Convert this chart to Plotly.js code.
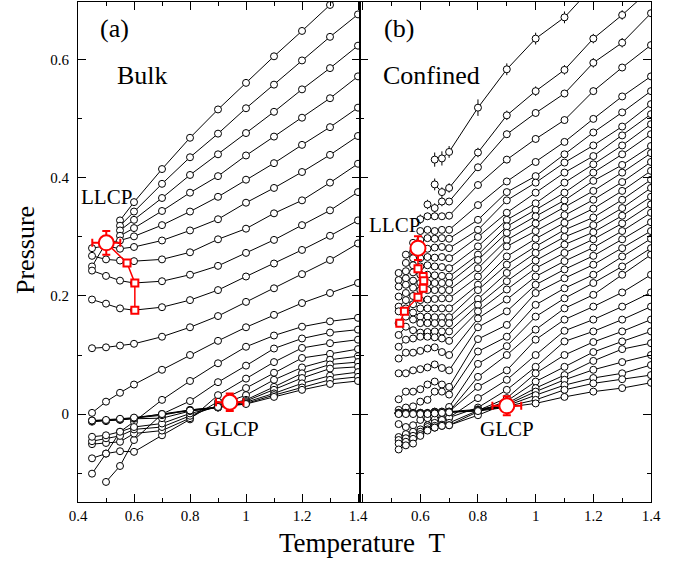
<!DOCTYPE html>
<html>
<head>
<meta charset="utf-8">
<script src="https://cdn.plot.ly/plotly-3.0.1.min.js"></script>
<style>html,body{margin:0;padding:0;background:#fff;}#chart{width:682px;height:562px;}</style>
</head>
<body>
<div id="chart"></div>
<script>
// ---------- Bulk (panel a) ----------
const TL = [0.45,0.5,0.55,0.6,0.7,0.8,0.9,1.0,1.1,1.2,1.3,1.4];
const bulkC1  = [null,null,0.328,0.359,0.415,0.468,0.516,0.561,0.606,0.649,0.693,0.737];
const bulkC2  = [null,null,0.319,0.343,0.390,0.435,0.475,0.518,0.558,0.599,0.639,0.677];
const bulkC3  = [null,null,0.311,0.329,0.366,0.405,0.440,0.476,0.512,0.550,0.586,0.624];
const bulkC4  = [null,null,0.302,0.315,0.344,0.375,0.403,0.438,0.470,0.502,0.535,0.572];
const bulkC5  = [0.250,0.290,0.294,0.301,0.320,0.343,0.368,0.397,0.425,0.456,0.486,0.519];
const bulkC6  = [0.281,0.285,0.280,0.283,0.294,0.311,0.330,0.358,0.383,0.410,0.439,0.471];
const bulkC7  = [0.268,0.262,0.260,0.259,0.262,0.274,0.296,0.314,0.340,0.362,0.392,0.424];
const bulkC8  = [0.243,0.234,0.226,0.222,0.225,0.236,0.251,0.273,0.295,0.320,0.345,0.376];
const bulkC9  = [0.194,0.187,0.179,0.176,0.181,0.193,0.210,0.233,0.255,0.278,0.302,0.328];
const bulkC10 = [0.1115,0.113,0.116,0.119,0.131,0.147,0.166,0.190,0.213,0.237,0.261,0.289];
const bulkC11 = [0.002,0.021,0.036,0.050,0.075,0.100,0.124,0.147,0.168,0.188,0.205,0.222];
const bulkL2  = [-0.101,-0.067,-0.030,-0.013,0.024,0.056,0.086,0.114,0.133,0.148,0.157,0.163];
const bulkL3  = [null,-0.115,-0.088,-0.044,0.000,0.022,0.054,0.082,0.111,0.128,0.138,0.143];
const bulkL4  = [-0.075,-0.067,-0.063,-0.064,-0.036,-0.009,0.032,0.060,0.088,0.112,0.120,0.126];
const bulkL5  = [-0.051,-0.049,-0.047,-0.033,-0.028,-0.007,0.021,0.044,0.070,0.095,0.102,0.110];
const bulkL6  = [-0.046,-0.041,-0.037,-0.026,-0.022,-0.003,0.015,0.032,0.058,0.079,0.092,0.098];
const bulkL7  = [-0.0385,-0.036,-0.030,-0.022,-0.016,0.001,0.012,0.024,0.046,0.069,0.084,0.088];
const bulkL8  = [-0.013,-0.012,-0.010,-0.008,-0.007,0.005,0.011,0.022,0.041,0.061,0.077,0.080];
const bulkL9  = [-0.012,-0.011,-0.009,-0.007,-0.002,0.007,0.011,0.020,0.035,0.052,0.065,0.071];
const bulkL10 = [-0.011,-0.011,-0.009,-0.007,0.000,0.007,0.012,0.018,0.032,0.045,0.058,0.063];
const bulkL11 = [-0.011,-0.010,-0.008,-0.006,0.000,0.006,0.012,0.017,0.029,0.041,0.051,0.056];
const bulkCurves = [bulkC1,bulkC2,bulkC3,bulkC4,bulkC5,bulkC6,bulkC7,bulkC8,bulkC9,bulkC10,bulkC11,
                    bulkL2,bulkL3,bulkL4,bulkL5,bulkL6,bulkL7,bulkL8,bulkL9,bulkL10,bulkL11];

const bulkLLCP_T = [0.501], bulkLLCP_P = [0.290], bulkLLCP_dT = [0.05], bulkLLCP_dP = [0.02];
const bulkPathT = [0.501,0.575,0.603,0.603];
const bulkPathP = [0.290,0.256,0.222,0.176];
const bulkGLCP_T = [0.942], bulkGLCP_P = [0.020], bulkGLCP_dT = [0.049], bulkGLCP_dP = [0.015];

// ---------- Confined (panel b) ----------
const TR = [0.525,0.55,0.575,0.6,0.625,0.65,0.675,0.7,0.8,0.9,1.0,1.1,1.2,1.3,1.4];
const confR1  = [null,null,null,null,null,0.431,0.433,0.444,0.519,0.584,0.636,0.672,0.725,null,null];
const confR2  = [null,null,null,null,null,0.389,0.376,0.383,0.443,0.506,0.547,0.583,0.636,0.676,0.720];
const confR3  = [null,null,null,null,0.355,0.349,0.360,0.360,0.418,0.474,0.510,0.543,0.595,0.629,0.679];
const confR4  = [null,null,null,0.330,0.335,0.335,0.335,0.336,0.388,0.431,0.466,0.498,0.547,0.587,0.625];
const confR5  = [null,null,null,0.310,0.312,0.310,0.312,0.312,0.354,0.394,0.427,0.461,0.500,0.538,0.572];
const confR6  = [null,null,0.290,0.295,0.298,0.297,0.298,0.297,0.329,0.376,0.403,0.440,0.477,0.511,0.547];
const confR7  = [null,null,0.275,0.278,0.280,0.282,0.283,0.281,0.312,0.362,0.392,0.426,0.455,0.487,0.525];
const confR8  = [null,0.270,0.264,0.264,0.266,0.265,0.266,0.264,0.300,0.341,0.375,0.409,0.437,0.472,0.508];
const confR9  = [null,0.256,0.252,0.250,0.252,0.250,0.249,0.247,0.284,0.329,0.357,0.392,0.423,0.455,0.491];
const confR10 = [0.239,0.242,0.240,0.236,0.236,0.235,0.234,0.233,0.270,0.318,0.346,0.375,0.409,0.440,0.474];
const confR11 = [0.227,0.230,0.226,0.222,0.222,0.222,0.222,0.222,0.261,0.307,0.335,0.362,0.395,0.422,0.454];
const confR12 = [0.216,0.219,0.214,0.210,0.210,0.210,0.210,0.210,0.247,0.295,0.323,0.350,0.378,0.409,0.442];
const confR13 = [0.199,0.205,0.200,0.193,0.194,0.195,0.196,0.196,0.233,0.284,0.310,0.337,0.363,0.393,0.427];
const confR14 = [0.182,0.193,0.186,0.179,0.179,0.179,0.179,0.179,0.219,0.267,0.297,0.324,0.348,0.378,0.412];
const confR15 = [0.174,0.179,0.172,0.165,0.165,0.164,0.164,0.164,0.210,0.253,0.284,0.312,0.333,0.363,0.397];
const confR16 = [0.154,0.165,0.160,0.154,0.154,0.154,0.154,0.154,0.195,0.239,0.273,0.300,0.320,0.349,0.383];
const confR17 = [0.134,0.148,0.142,0.138,0.139,0.140,0.140,0.140,0.185,0.225,0.260,0.287,0.308,0.336,0.368];
const confR18 = [0.114,0.126,0.128,0.131,0.131,0.130,0.128,0.124,0.174,0.211,0.247,0.273,0.296,0.323,0.355];
const confR19 = [0.094,0.104,0.104,0.107,0.111,0.113,0.105,0.100,0.162,0.194,0.233,0.259,0.282,0.310,0.341];
const confR20 = [0.069,0.069,0.074,0.076,0.079,0.084,0.078,0.074,0.147,0.174,0.219,0.245,0.268,0.296,0.325];
const confR21 = [0.025,0.038,0.038,0.042,0.050,0.055,0.050,0.046,0.127,0.151,0.205,0.230,0.253,0.281,0.310];
const confR22 = [0.007,0.011,0.013,0.021,0.024,0.038,0.038,0.033,0.106,0.131,0.185,0.213,0.236,0.267,0.297];
const confR23 = [0.002,0.002,0.002,0.002,0.001,0.004,0.004,0.012,0.085,0.115,0.165,0.196,0.222,0.250,0.281];
const confR24 = [0.002,0.002,0.002,0.002,0.001,0.004,0.004,0.004,0.063,0.100,0.143,0.179,0.202,0.236,0.270];
const confR25 = [0.001,0.001,0.002,0.001,0.001,0.002,0.003,0.004,0.046,0.074,0.126,0.160,0.182,0.206,0.236];
const confR26 = [-0.017,-0.022,-0.019,-0.010,-0.007,-0.009,-0.007,-0.006,0.027,0.058,0.100,0.141,0.160,0.182,0.206];
const confR27 = [-0.039,-0.034,-0.030,-0.026,-0.019,-0.015,-0.010,-0.006,0.011,0.041,0.080,0.123,0.140,0.160,0.182];
const confR28 = [-0.044,-0.041,-0.037,-0.030,-0.022,-0.020,-0.018,-0.015,0.006,0.027,0.069,0.100,0.122,0.140,0.160];
const confR29 = [-0.050,-0.047,-0.042,-0.034,-0.026,-0.023,-0.020,-0.019,0.004,0.022,0.055,0.080,0.105,0.123,0.140];
const confR30 = [-0.060,-0.053,-0.050,-0.037,-0.028,-0.023,-0.020,-0.019,-0.002,0.018,0.044,0.066,0.090,0.110,0.120];
const confR31 = [0.002,0.002,0.002,0.002,0.002,0.003,0.003,0.004,0.008,0.016,0.038,0.058,0.075,0.088,0.100];
const confR32 = [0.001,0.001,0.001,0.001,0.001,0.002,0.003,0.003,0.007,0.014,0.032,0.049,0.061,0.069,0.083];
const confR33 = [0.001,0.001,0.001,0.001,0.001,0.002,0.002,0.003,0.006,0.013,0.024,0.041,0.052,0.059,0.066];
const confR34 = [0.000,0.000,0.000,0.000,0.000,0.001,0.002,0.003,0.005,0.012,0.018,0.029,0.038,0.044,0.053];
const confCurves = [confR1,confR2,confR3,confR4,confR5,confR6,confR7,confR8,confR9,confR10,confR11,confR12,
  confR13,confR14,confR15,confR16,confR17,confR18,confR19,confR20,confR21,confR22,confR23,confR24,confR25,
  confR26,confR27,confR28,confR29,confR30,confR31,confR32,confR33,confR34];
// vertical error bars on the high-pressure confined points
const confErr1 = [0,0,0,0,0,0.012,0.012,0.010,0.014,0.010,0.010,0.010,0.010,0,0];
const confErr2 = [0,0,0,0,0,0.010,0.008,0.008,0.008,0.008,0.008,0.008,0.008,0.008,0];
const confErr3 = [0,0,0,0,0.008,0.008,0.008,0.006,0.006,0.006,0.006,0.006,0.008,0.008,0];
const confErr4 = [0,0,0,0.008,0.006,0.006,0.006,0.006,0.006,0.006,0.006,0.006,0.006,0.006,0];
const confErrs = [confErr1,confErr2,confErr3,confErr4];

const confLLCP_T = [0.592], confLLCP_P = [0.281], confLLCP_dP = [0.02];
const confPathT = [0.592,0.592,0.610,0.612,0.610,0.592,0.545,0.529];
const confPathP = [0.281,0.246,0.233,0.226,0.213,0.198,0.174,0.154];
const confGLCP_T = [0.900], confGLCP_P = [0.014], confGLCP_dT = [0.05], confGLCP_dP = [0.016];

const yTickVals = [0,0.2,0.4,0.6];
const yTickText = ['0','0.2','0.4','0.6'];
const xTickVals = [0.4,0.6,0.8,1.0,1.2,1.4];
const xTickTextA = ['0.4','0.6','0.8','1','1.2','1.4'];
const xTickTextB = ['','0.6','0.8','1','1.2','1.4'];

// ---------- build ----------
const FONT = '"Liberation Serif", "Times New Roman", Times, serif';
const RED = '#ff0000';
const traces = [];
function blackCurve(T, P, xa, ya, err) {
  const t = {
    x: T, y: P, xaxis: xa, yaxis: ya, type: 'scatter', mode: 'lines+markers',
    line: {color: '#000', width: 1},
    marker: {symbol: 'circle', size: 7, color: '#fff', line: {color: '#000', width: 1}},
    hoverinfo: 'skip', showlegend: false
  };
  if (err) t.error_y = {type: 'data', array: err, visible: true, color: '#000', thickness: 1, width: 0};
  traces.push(t);
}
bulkCurves.forEach(c => blackCurve(TL, c, 'x', 'y'));
confCurves.forEach((c, i) => blackCurve(TR, c, 'x2', 'y2', confErrs[i]));

function redPath(T, P, xa, ya) {
  traces.push({x: T, y: P, xaxis: xa, yaxis: ya, type: 'scatter', mode: 'lines',
    line: {color: RED, width: 1.5}, hoverinfo: 'skip', showlegend: false});
  traces.push({x: T.slice(1), y: P.slice(1), xaxis: xa, yaxis: ya, type: 'scatter', mode: 'markers',
    marker: {symbol: 'square', size: 7, color: '#fff', line: {color: RED, width: 2}},
    hoverinfo: 'skip', showlegend: false});
}
function redPoint(T, P, dT, dP, xa, ya) {
  const t = {x: T, y: P, xaxis: xa, yaxis: ya, type: 'scatter', mode: 'markers',
    marker: {symbol: 'circle', size: 15, color: '#fff', line: {color: RED, width: 2}},
    error_y: {type: 'data', array: dP, visible: true, color: RED, thickness: 2, width: 4},
    hoverinfo: 'skip', showlegend: false};
  if (dT) t.error_x = {type: 'data', array: dT, visible: true, color: RED, thickness: 2, width: 4};
  traces.push(t);
}
redPath(bulkPathT, bulkPathP, 'x', 'y');
redPoint(bulkLLCP_T, bulkLLCP_P, bulkLLCP_dT, bulkLLCP_dP, 'x', 'y');
redPoint(bulkGLCP_T, bulkGLCP_P, bulkGLCP_dT, bulkGLCP_dP, 'x', 'y');
redPath(confPathT, confPathP, 'x2', 'y2');
redPoint(confLLCP_T, confLLCP_P, null, confLLCP_dP, 'x2', 'y2');
redPoint(confGLCP_T, confGLCP_P, confGLCP_dT, confGLCP_dP, 'x2', 'y2');

const tickFont = {family: FONT, size: 15, color: '#000'};
const xCommon = {
  showgrid: false, zeroline: false, showline: true, linecolor: '#000', linewidth: 1,
  mirror: 'ticks', ticks: 'inside', ticklen: 8, tickwidth: 1, tickcolor: '#000',
  tickvals: xTickVals,
  minor: {tickvals: [0.5,0.7,0.9,1.1,1.3], ticks: 'inside', ticklen: 4, tickwidth: 1, tickcolor: '#000'},
  tickfont: tickFont, fixedrange: true
};
const yCommon = {
  showgrid: false, zeroline: false, showline: true, linecolor: '#000', linewidth: 1,
  mirror: 'ticks', ticks: 'inside', ticklen: 8, tickwidth: 1, tickcolor: '#000',
  range: [-0.149, 0.698], tickvals: yTickVals, ticktext: yTickText,
  minor: {tickvals: [-0.1,0.1,0.3,0.5], ticks: 'inside', ticklen: 4, tickwidth: 1, tickcolor: '#000'},
  tickfont: tickFont, fixedrange: true
};

const annFont = {family: FONT, size: 26, color: '#000'};
const labFont = {family: FONT, size: 21, color: '#000'};
const layout = {
  width: 682, height: 562,
  margin: {l: 78, r: 31, t: 2, b: 60},
  paper_bgcolor: '#fff', plot_bgcolor: '#fff',
  font: {family: FONT, color: '#000'},
  showlegend: false,
  xaxis: Object.assign({}, xCommon, {domain: [0, 0.49215], range: [0.4, 1.40714], anchor: 'y', ticktext: xTickTextA}),
  xaxis2: Object.assign({}, xCommon, {domain: [0.49215, 1], range: [0.391, 1.4], anchor: 'y2', ticktext: xTickTextB}),
  yaxis: Object.assign({}, yCommon, {anchor: 'x', ticklabelstandoff: 5}),
  yaxis2: Object.assign({}, yCommon, {anchor: 'x2', matches: 'y', showticklabels: false}),
  annotations: [
    {xref: 'x', yref: 'y', x: 0.532, y: 0.653, text: '(a)', showarrow: false, font: annFont},
    {xref: 'x', yref: 'y', x: 0.630, y: 0.573, text: 'Bulk', showarrow: false, font: annFont},
    {xref: 'x', yref: 'y', x: 0.500, y: 0.368, text: 'LLCP', showarrow: false, font: labFont},
    {xref: 'x', yref: 'y', x: 0.950, y: -0.025, text: 'GLCP', showarrow: false, font: labFont},
    {xref: 'x2', yref: 'y', x: 0.525, y: 0.653, text: '(b)', showarrow: false, font: annFont},
    {xref: 'x2', yref: 'y', x: 0.639, y: 0.573, text: 'Confined', showarrow: false, font: annFont},
    {xref: 'x2', yref: 'y', x: 0.511, y: 0.320, text: 'LLCP', showarrow: false, font: labFont},
    {xref: 'x2', yref: 'y', x: 0.899, y: -0.025, text: 'GLCP', showarrow: false, font: labFont},
    {xref: 'paper', yref: 'paper', x: -0.0925, y: 0.504, xanchor: 'center', yanchor: 'middle', textangle: -90,
     text: 'Pressure', showarrow: false, font: {family: FONT, size: 26, color: '#000'}},
    {xref: 'paper', yref: 'paper', x: 0.497, y: -0.082, yanchor: 'middle', text: 'Temperature\u00a0\u00a0T', showarrow: false,
     font: {family: FONT, size: 27, color: '#000'}}
  ]
};

Plotly.newPlot('chart', traces, layout, {staticPlot: true, displayModeBar: false});
</script>
</body>
</html>
